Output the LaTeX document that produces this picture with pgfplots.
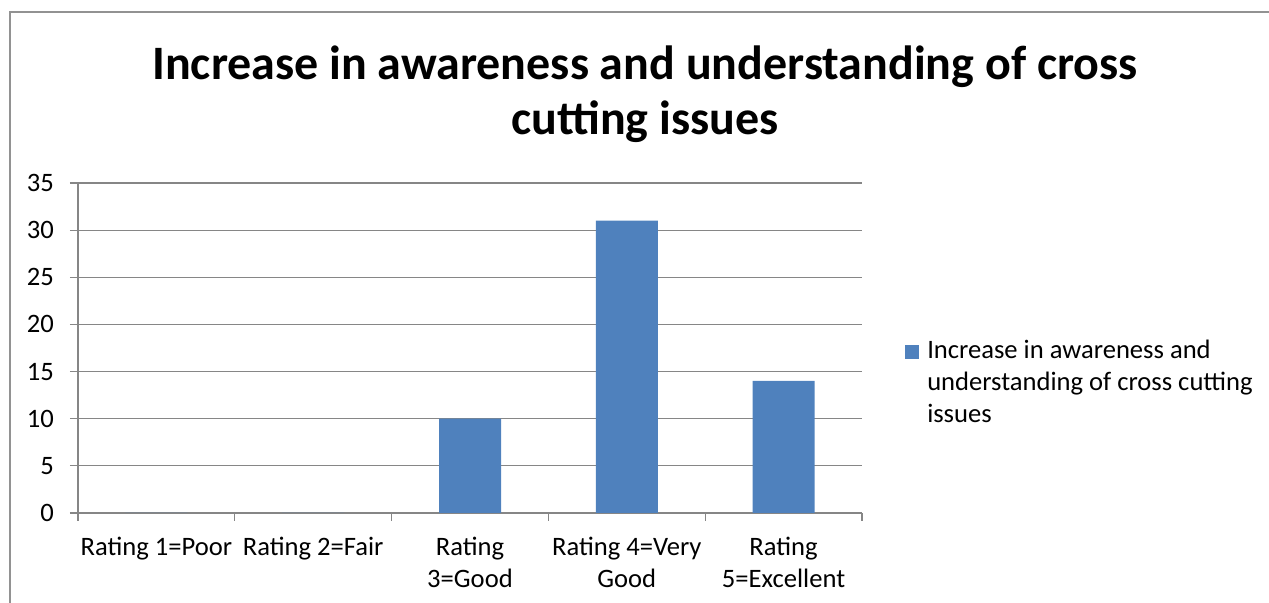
\documentclass[border=0pt]{standalone}
\usepackage{pgfplots}
\pgfplotsset{compat=1.18}
\usepackage{fontspec}
\setmainfont{Carlito}
\definecolor{barblue}{HTML}{4F81BD}
\definecolor{gridgray}{HTML}{868686}
\begin{document}
\begin{tikzpicture}
\useasboundingbox (-39pt,-45pt) rectangle (595.5pt,256.5pt);
\draw[gridgray!90, line width=0.8pt] (-34pt,-46pt) -- (-34pt,250.5pt) -- (596pt,250.5pt);
\node[font=\fontsize{24}{29}\selectfont\bfseries, anchor=base] at (283.5pt,216.5pt) {Increase in awareness and understanding of cross};
\node[font=\fontsize{24}{29}\selectfont\bfseries, anchor=base] at (283.5pt,189pt) {cutting issues};
\begin{axis}[
  at={(0pt,0pt)}, anchor=south west,
  scale only axis, width=392pt, height=165pt,
  ybar, bar width=31pt,
  xmin=-0.5, xmax=4.5, ymin=0, ymax=35,
  ytick={0,5,...,35},
  xtick={-0.5,0.5,...,4.5},
  x tick label as interval,
  xticklabels={Rating 1=Poor, Rating 2=Fair, {Rating\\3=Good}, {Rating 4=Very\\Good}, {Rating\\5=Excellent}},
  xticklabel style={align=center, font=\fontsize{13.3}{16}\selectfont, yshift=-4.5pt},
  yticklabel style={font=\fontsize{13.3}{16}\selectfont, xshift=-4.5pt},
  /pgf/number format/assume math mode=true,
  axis x line*=bottom, axis y line*=left,
  axis line style={gridgray, line width=0.6pt},
  ymajorgrids, grid style={gridgray, line width=0.6pt},
  tick style={gridgray, line width=0.6pt},
  tick align=outside, major tick length=4pt,
  xtick pos=bottom, ytick pos=left,
  enlarge x limits=false,
  legend style={draw=none, at={(1.047,0.55)}, anchor=north west, font=\fontsize{13.3}{16}\selectfont, cells={align=left, anchor=west}},
  legend image code/.code={\fill[#1, draw=none] (0pt,12pt) rectangle (7pt,19pt); \path (9pt,15pt);},
]
\addplot[fill=barblue, draw=none] coordinates {(0,0) (1,0) (2,10) (3,31) (4,14)};
\addlegendentry{Increase in awareness and\\understanding of cross cutting\\issues}
\end{axis}
\end{tikzpicture}
\end{document}
